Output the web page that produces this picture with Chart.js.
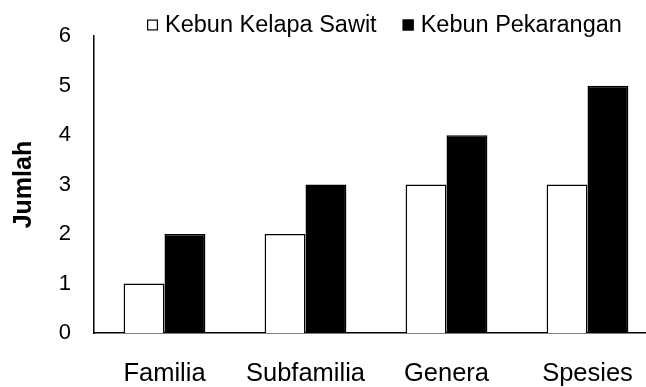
<!DOCTYPE html>
<html>
<head>
<meta charset="utf-8">
<script src="https://cdn.jsdelivr.net/npm/chart.js@4/dist/chart.umd.min.js"></script>
<style>
  html, body { margin: 0; padding: 0; background: #fff; overflow: hidden; }
  #wrap { width: 646px; height: 387px; overflow: hidden; }
  #c { display: block; }
</style>
</head>
<body>
<div id="wrap"><canvas id="c" width="660" height="390"></canvas></div>
<script>
// Taxonomic levels on the x axis
const categories = ['Familia', 'Subfamilia', 'Genera', 'Spesies'];
// Counts per habitat
const sawit = [1, 2, 3, 3];
const pekarangan = [2, 3, 4, 5];
const seriesNames = ['Kebun Kelapa Sawit', 'Kebun Pekarangan'];
const yTicks = [0, 1, 2, 3, 4, 5, 6];

const FONT = "'Liberation Sans', Arial, sans-serif";

// Legend drawn as a single row over the top of the plot, square swatches
const topLegend = {
  id: 'topLegend',
  afterDraw(chart) {
    const ctx = chart.ctx;
    const size = 23.5, box = 11, midY = 25;
    let x = 147;
    ctx.save();
    ctx.font = size + 'px ' + FONT;
    ctx.textBaseline = 'middle';
    ctx.textAlign = 'left';
    chart.data.datasets.forEach(ds => {
      ctx.fillStyle = ds.backgroundColor;
      ctx.fillRect(x, midY - box / 2, box, box);
      ctx.strokeStyle = '#000';
      ctx.lineWidth = 1.2;
      ctx.strokeRect(x + 0.6, midY - box / 2 + 0.6, box - 1.2, box - 1.2);
      ctx.fillStyle = '#000';
      ctx.fillText(ds.label, x + 18, midY + 1);
      x += 18 + ctx.measureText(ds.label).width + 26;
    });
    ctx.restore();
  }
};

new Chart(document.getElementById('c'), {
  type: 'bar',
  data: {
    labels: categories,
    datasets: [
      {
        label: seriesNames[0],
        data: sawit,
        backgroundColor: '#ffffff',
        borderColor: '#000000',
        borderWidth: 1.5,
        borderSkipped: 'bottom'
      },
      {
        label: seriesNames[1],
        data: pekarangan,
        backgroundColor: '#000000',
        borderColor: '#000000',
        borderWidth: 1.5,
        borderSkipped: 'bottom'
      }
    ]
  },
  plugins: [topLegend],
  options: {
    responsive: false,
    animation: false,
    devicePixelRatio: 1,
    layout: { padding: { top: 33, right: 2, left: 9, bottom: 1 } },
    datasets: { bar: { barPercentage: 1.0, categoryPercentage: 0.58 } },
    plugins: {
      tooltip: { enabled: false },
      legend: { display: false }
    },
    scales: {
      x: {
        grid: { display: false, drawTicks: false },
        border: { display: true, color: '#000', width: 1.5 },
        afterFit: (scale) => { scale.height = 56; },
        ticks: {
          color: '#000',
          font: { family: FONT, size: 25.5 },
          padding: 26,
          maxRotation: 0
        }
      },
      y: {
        min: 0,
        max: 6,
        afterBuildTicks: (axis) => { axis.ticks = yTicks.map(v => ({ value: v })); },
        afterFit: (scale) => { scale.width = 85; },
        grid: { display: false, drawTicks: false },
        border: { display: true, color: '#000', width: 1.5 },
        ticks: {
          color: '#000',
          font: { family: FONT, size: 22 },
          padding: 23
        },
        title: {
          display: true,
          text: 'Jumlah',
          color: '#000',
          font: { family: FONT, size: 25, weight: 'bold' },
          padding: { top: 0, bottom: 0 }
        }
      }
    }
  }
});
</script>
</body>
</html>
